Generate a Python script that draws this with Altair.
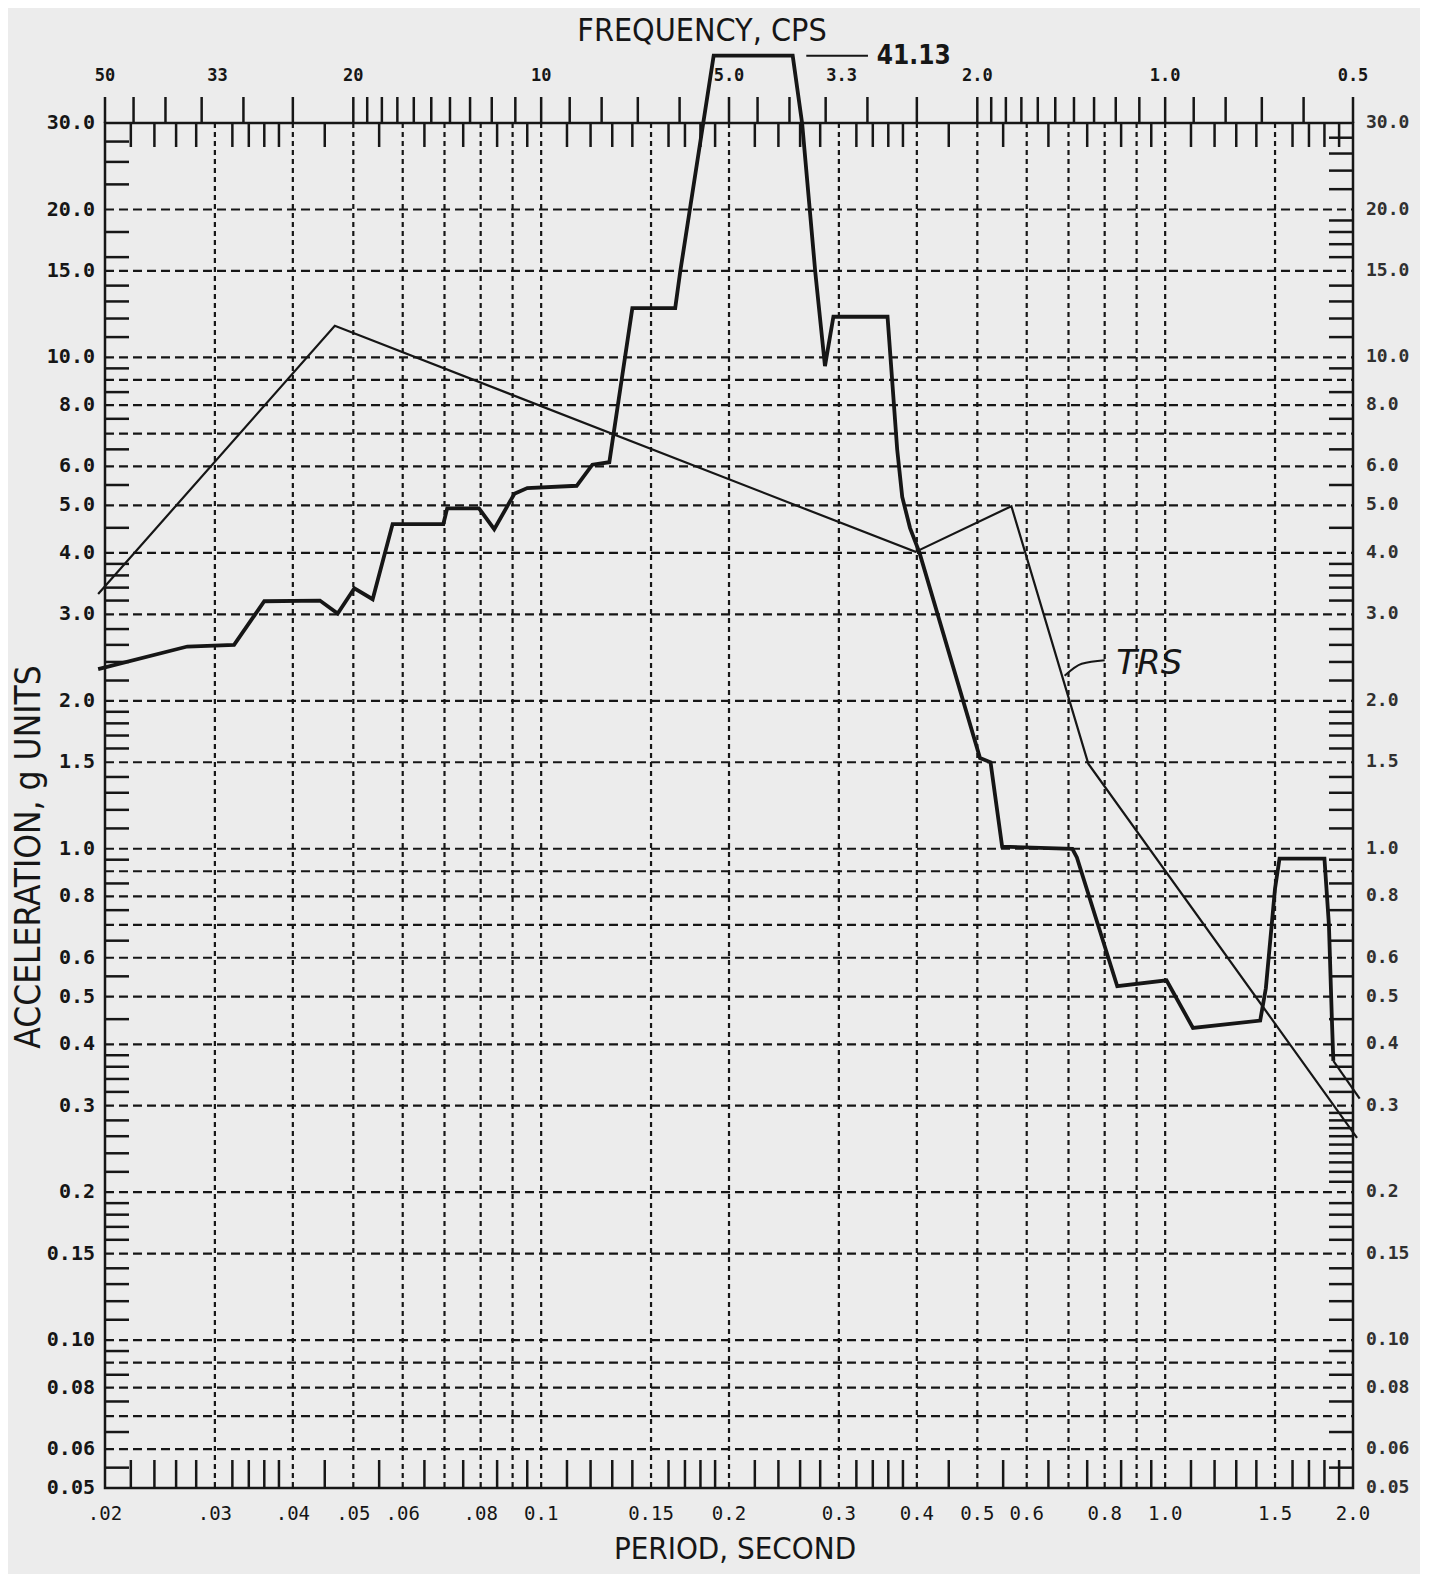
import altair as alt
import pandas as pd

# ---------------- data ----------------
THICK_PERIOD = [0.0195, 0.0271, 0.0322, 0.0360, 0.0442, 0.0472, 0.0502, 0.0537,
                0.0578, 0.0697, 0.0707, 0.0795, 0.0841, 0.0906, 0.095, 0.114,
                0.1208, 0.1286, 0.140, 0.164, 0.167, 0.189, 0.253, 0.262, 0.275,
                0.285, 0.294, 0.359, 0.372, 0.379, 0.390, 0.404, 0.505, 0.525,
                0.548, 0.710, 0.722, 0.838, 1.005, 1.108, 1.42, 1.45, 1.50, 1.525,
                1.80, 1.83, 1.85, 1.86]
THICK_ACC = [2.32, 2.58, 2.60, 3.19, 3.20, 3.01, 3.39, 3.22,
             4.58, 4.58, 4.93, 4.93, 4.47, 5.28, 5.42, 5.48,
             6.05, 6.12, 12.6, 12.6, 14.9, 41.13, 41.13, 29.9, 14.9,
             9.6, 12.1, 12.1, 6.5, 5.2, 4.5, 4.0, 1.53, 1.50,
             1.01, 1.00, 0.96, 0.525, 0.54, 0.432, 0.447, 0.52, 0.83, 0.955,
             0.955, 0.70, 0.45, 0.37]
TAIL_PERIOD = [1.86, 2.05]
TAIL_ACC = [0.37, 0.31]

THIN_PERIOD = [0.0195, 0.0467, 0.398, 0.567, 0.753, 2.03]
THIN_ACC = [3.30, 11.6, 4.02, 4.98, 1.49, 0.258]

Y_GRID = [20, 15, 10, 9, 8, 7, 6, 5, 4, 3, 2, 1.5, 1.0, 0.9, 0.8, 0.7, 0.6,
          0.5, 0.4, 0.3, 0.2, 0.15, 0.1, 0.09, 0.08, 0.07, 0.06]
X_GRID = [0.03, 0.04, 0.05, 0.06, 0.07, 0.08, 0.09, 0.1, 0.15, 0.2, 0.3, 0.4,
          0.5, 0.6, 0.7, 0.8, 0.9, 1.0, 1.5]

Y_LABEL_VALUES = [30, 20, 15, 10, 8, 6, 5, 4, 3, 2, 1.5, 1.0, 0.8, 0.6, 0.5,
                  0.4, 0.3, 0.2, 0.15, 0.10, 0.08, 0.06, 0.05]
Y_LABEL_TEXT = ["30.0", "20.0", "15.0", "10.0", "8.0", "6.0", "5.0", "4.0",
                "3.0", "2.0", "1.5", "1.0", "0.8", "0.6", "0.5", "0.4", "0.3",
                "0.2", "0.15", "0.10", "0.08", "0.06", "0.05"]
X_LABEL_VALUES = [0.02, 0.03, 0.04, 0.05, 0.06, 0.08, 0.1, 0.15, 0.2, 0.3, 0.4,
                  0.5, 0.6, 0.8, 1.0, 1.5, 2.0]
X_LABEL_TEXT = [".02", ".03", ".04", ".05", ".06", ".08", "0.1", "0.15", "0.2",
                "0.3", "0.4", "0.5", "0.6", "0.8", "1.0", "1.5", "2.0"]
F_LABEL_VALUES = [50, 33, 20, 10, 5.0, 3.3, 2.0, 1.0, 0.5]
F_LABEL_TEXT = ["50", "33", "20", "10", "5.0", "3.3", "2.0", "1.0", "0.5"]
F_TICKS = [50, 45, 40, 35, 30, 25, 20, 19, 18, 17, 16, 15, 14, 13, 12, 11, 10,
           9, 8, 7, 6, 5, 4.5, 4, 3.5, 3, 2.5, 2, 1.9, 1.8, 1.7, 1.6, 1.5, 1.4,
           1.3, 1.2, 1.1, 1.0, 0.9, 0.8, 0.7, 0.6, 0.5]
X_MINOR = [0.022, 0.024, 0.026, 0.028, 0.032, 0.034, 0.036, 0.038, 0.045,
           0.055, 0.065, 0.075, 0.085, 0.095, 0.11, 0.12, 0.13, 0.14, 0.16,
           0.17, 0.18, 0.19, 0.22, 0.24, 0.26, 0.28, 0.32, 0.34, 0.36, 0.38,
           0.45, 0.55, 0.65, 0.75, 0.85, 0.95, 1.1, 1.2, 1.3, 1.4, 1.6, 1.7,
           1.8, 1.9]
Y_MINOR_LEFT = [27.5, 25, 22.5, 18, 16, 14, 13, 12, 11, 9.5, 8.5, 7.5, 6.5,
                5.5, 4.5, 3.8, 3.6, 3.4, 3.2, 2.8, 2.6, 2.4, 2.2, 1.9, 1.8,
                1.7, 1.6, 1.4, 1.3, 1.2, 1.1, 0.95, 0.85, 0.75, 0.65, 0.55,
                0.45, 0.38, 0.36, 0.34, 0.32, 0.28, 0.26, 0.24, 0.22, 0.19,
                0.18, 0.17, 0.16, 0.14, 0.13, 0.12, 0.11, 0.095, 0.085, 0.075,
                0.065, 0.055]
Y_MINOR_RIGHT = [28, 26, 24, 22, 19, 18, 17, 16, 14, 13, 12, 11, 9.5, 8.5,
                 7.5, 6.5, 5.5, 4.5, 3.8, 3.6, 3.4, 3.2, 2.8, 2.6, 2.4, 2.2,
                 1.9, 1.8, 1.7, 1.6, 1.4, 1.3, 1.2, 1.1, 0.95, 0.85, 0.75,
                 0.65, 0.55, 0.45, 0.38, 0.36, 0.34, 0.32, 0.29, 0.28, 0.27,
                 0.26, 0.25, 0.24, 0.23, 0.22, 0.21, 0.19, 0.18, 0.17, 0.16,
                 0.14, 0.13, 0.12, 0.11, 0.095, 0.085, 0.075, 0.065, 0.055]

PEAK_LABEL = "41.13"
PEAK_LEADER_PERIOD = [0.266, 0.334]
PEAK_LABEL_PERIOD = 0.345
TRS_ARROW_PERIOD = [0.69, 0.735, 0.80]
TRS_ARROW_ACC = [2.25, 2.38, 2.42]
TRS_LABEL_PERIOD = 0.835
TRS_LABEL_ACC = 2.38

# ---------------- layout ----------------
W, H = 1248, 1365
INK = "#161616"
TITLE_FONT = "Liberation Sans Narrow, DejaVu Sans Condensed, Arial Narrow, sans-serif"
LABEL_FONT = "DejaVu Sans Mono, Liberation Mono, monospace"

xs = alt.Scale(type="log", domain=[0.02, 2.0])
ys = alt.Scale(type="log", domain=[0.05, 30.0])


def X(f):
    return alt.X(f, type="quantitative", scale=xs, axis=None)


def Y(f):
    return alt.Y(f, type="quantitative", scale=ys, axis=None)


def df(**cols):
    return pd.DataFrame(cols)


layers = []

# dashed grid
layers.append(alt.Chart(df(v=Y_GRID)).mark_rule(
    color=INK, strokeWidth=2.2, strokeDash=[9, 5]).encode(
    y=Y("v"), x=alt.value(0), x2=alt.value(W)))
layers.append(alt.Chart(df(v=X_GRID)).mark_rule(
    color=INK, strokeWidth=2.2, strokeDash=[5, 4]).encode(
    x=X("v"), y=alt.value(0), y2=alt.value(H)))

# edge ticks
layers.append(alt.Chart(df(v=Y_MINOR_LEFT)).mark_rule(
    color=INK, strokeWidth=2.5).encode(y=Y("v"), x=alt.value(0), x2=alt.value(24)))
layers.append(alt.Chart(df(v=Y_MINOR_RIGHT)).mark_rule(
    color=INK, strokeWidth=2.5).encode(y=Y("v"), x=alt.value(W - 24), x2=alt.value(W)))
layers.append(alt.Chart(df(v=X_MINOR)).mark_rule(
    color=INK, strokeWidth=2.5).encode(x=X("v"), y=alt.value(H - 28), y2=alt.value(H)))
layers.append(alt.Chart(df(v=X_MINOR)).mark_rule(
    color=INK, strokeWidth=2.5).encode(x=X("v"), y=alt.value(0), y2=alt.value(24)))
layers.append(alt.Chart(df(f=F_TICKS)).transform_calculate(
    p="1 / datum.f").mark_rule(color=INK, strokeWidth=2.5).encode(
    x=X("p"), y=alt.value(-26), y2=alt.value(0)))

# tick labels
layers.append(alt.Chart(df(v=Y_LABEL_VALUES, t=Y_LABEL_TEXT)).mark_text(
    align="right", baseline="middle", font=LABEL_FONT, fontSize=20,
    fontWeight="bold", color=INK).encode(y=Y("v"), x=alt.value(-10), text="t:N"))
layers.append(alt.Chart(df(v=Y_LABEL_VALUES, t=Y_LABEL_TEXT)).mark_text(
    align="left", baseline="middle", font=LABEL_FONT, fontSize=18,
    fontWeight="bold", color="#303030").encode(y=Y("v"), x=alt.value(W + 13), text="t:N"))
layers.append(alt.Chart(df(v=X_LABEL_VALUES, t=X_LABEL_TEXT)).mark_text(
    align="center", baseline="middle", font=LABEL_FONT, fontSize=19,
    color=INK).encode(x=X("v"), y=alt.value(H + 26), text="t:N"))
layers.append(alt.Chart(df(f=F_LABEL_VALUES, t=F_LABEL_TEXT)).transform_calculate(
    p="1 / datum.f").mark_text(
    align="center", baseline="middle", font=LABEL_FONT, fontSize=17,
    fontWeight="bold", color=INK).encode(x=X("p"), y=alt.value(-47), text="t:N"))

# titles
layers.append(alt.Chart(df(t=["PERIOD, SECOND"])).mark_text(
    font=TITLE_FONT, fontSize=31, color=INK, baseline="middle").encode(
    text="t:N", x=alt.value(W / 2 + 6), y=alt.value(H + 62)))
layers.append(alt.Chart(df(t=["FREQUENCY, CPS"])).mark_text(
    font=TITLE_FONT, fontSize=32, color=INK, baseline="middle").encode(
    text="t:N", x=alt.value(597), y=alt.value(-92)))
layers.append(alt.Chart(df(t=["ACCELERATION, g UNITS"])).mark_text(
    font=TITLE_FONT, fontSize=35, color=INK, baseline="middle", angle=270).encode(
    text="t:N", x=alt.value(-76), y=alt.value(734)))

# data curves
layers.append(alt.Chart(df(p=THIN_PERIOD, a=THIN_ACC, o=list(range(len(THIN_ACC))))).mark_line(
    color=INK, strokeWidth=2.2, clip=False).encode(x=X("p"), y=Y("a"), order="o:Q"))
layers.append(alt.Chart(df(p=TAIL_PERIOD, a=TAIL_ACC, o=[0, 1])).mark_line(
    color=INK, strokeWidth=2.2, clip=False).encode(x=X("p"), y=Y("a"), order="o:Q"))
layers.append(alt.Chart(df(p=THICK_PERIOD, a=THICK_ACC, o=list(range(len(THICK_ACC))))).mark_line(
    color=INK, strokeWidth=3.8, clip=False, strokeJoin="miter").encode(
    x=X("p"), y=Y("a"), order="o:Q"))

# annotations
layers.append(alt.Chart(df(p=PEAK_LEADER_PERIOD, a=[41.13, 41.13])).mark_line(
    color=INK, strokeWidth=2, clip=False).encode(x=X("p"), y=Y("a")))
layers.append(alt.Chart(df(p=[PEAK_LABEL_PERIOD], a=[41.13], t=[PEAK_LABEL])).mark_text(
    align="left", baseline="middle", font=TITLE_FONT, fontSize=26,
    fontWeight="bold", color=INK).encode(x=X("p"), y=Y("a"), text="t:N"))
layers.append(alt.Chart(df(p=TRS_ARROW_PERIOD, a=TRS_ARROW_ACC, o=[0, 1, 2])).mark_line(
    color=INK, strokeWidth=2, clip=False, interpolate="monotone").encode(
    x=X("p"), y=Y("a"), order="o:Q"))
layers.append(alt.Chart(df(p=[TRS_LABEL_PERIOD], a=[TRS_LABEL_ACC], t=["TRS"])).mark_text(
    align="left", baseline="middle", font="DejaVu Sans", fontSize=34,
    fontStyle="italic", color=INK).encode(x=X("p"), y=Y("a"), text="t:N"))

chart = alt.layer(*layers).properties(
    width=W, height=H,
    autosize=alt.AutoSizeParams(type="none"),
    padding={"left": 97, "top": 115, "right": 67, "bottom": 86},
    background="#ececec",
).configure_view(stroke=INK, strokeWidth=2.5)

chart.save("out.html", embed_options={"renderer": "svg", "actions": False})
